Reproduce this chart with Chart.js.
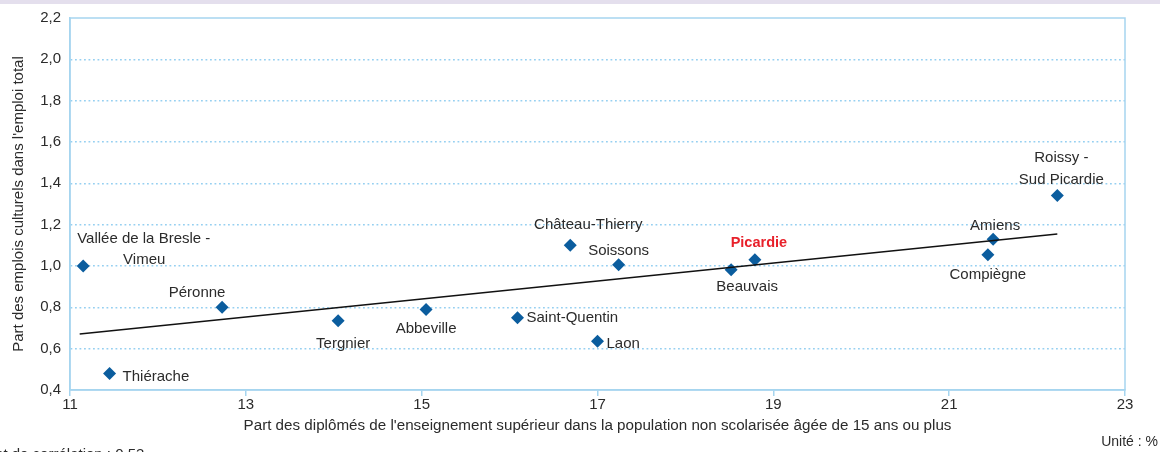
<!DOCTYPE html>
<html>
<head>
<meta charset="utf-8">
<script src="https://cdn.jsdelivr.net/npm/chart.js@4"></script>
<style>
  html, body { margin: 0; padding: 0; background: #fff; }
  #wrap { width: 1160px; height: 452px; }
</style>
</head>
<body>
<div id="wrap"><canvas id="chart" width="1160" height="452"></canvas></div>
<script>
// zones d'emploi
const zones = [
    "Vallée de la Bresle - Vimeu", "Thiérache", "Péronne", "Tergnier", "Abbeville",
    "Saint-Quentin", "Laon", "Château-Thierry", "Soissons", "Beauvais",
    "Picardie", "Compiègne", "Amiens", "Roissy - Sud Picardie"
];
// part des diplômés du supérieur (%)
const diplomes = [11.15, 11.45, 12.73, 14.05, 15.05, 16.09, 17.0, 16.69, 17.24, 18.52, 18.79, 21.44, 21.5, 22.23];
// part des emplois culturels (%)
const emplois = [1.0, 0.48, 0.8, 0.735, 0.79, 0.75, 0.636, 1.1, 1.006, 0.982, 1.03, 1.054, 1.129, 1.341];
// droite de tendance
const trendX = [11.11, 22.23];
const trendY = [0.671, 1.155];

const xTicks = [11, 13, 15, 17, 19, 21, 23];
const yTicks = [0.4, 0.6, 0.8, 1.0, 1.2, 1.4, 1.6, 1.8, 2.0, 2.2];

const FONT = "'Liberation Sans', Arial, sans-serif";
const TEXT = '#2b2b2b';
const AXIS = '#a6d5ef';

// position des étiquettes par rapport au point (px): lignes, dx, dy, alignement
const labelPlacement = {
    "Vallée de la Bresle - Vimeu": [["Vallée de la Bresle -", -6, -27, 'left'], ["Vimeu", 61, -6, 'center']],
    "Thiérache": [["Thiérache", 13, 3, 'left']],
    "Péronne": [["Péronne", -25, -14, 'center']],
    "Tergnier": [["Tergnier", 5, 23, 'center']],
    "Abbeville": [["Abbeville", 0, 19, 'center']],
    "Saint-Quentin": [["Saint-Quentin", 9, 0, 'left']],
    "Laon": [["Laon", 9, 3, 'left']],
    "Château-Thierry": [["Château-Thierry", 18, -20, 'center']],
    "Soissons": [["Soissons", 0, -14, 'center']],
    "Beauvais": [["Beauvais", 16, 17, 'center']],
    "Picardie": [["Picardie", 4, -17, 'center']],
    "Compiègne": [["Compiègne", 0, 20, 'center']],
    "Amiens": [["Amiens", 2, -13, 'center']],
    "Roissy - Sud Picardie": [["Roissy -", 4, -38, 'center'], ["Sud Picardie", 4, -16, 'center']]
};

const pointLabels = {
    id: 'pointLabels',
    afterDatasetsDraw(chart) {
        const ctx = chart.ctx;
        const meta = chart.getDatasetMeta(1);
        ctx.save();
        ctx.textBaseline = 'middle';
        meta.data.forEach((pt, i) => {
            const name = zones[i];
            const isRegion = name === 'Picardie';
            ctx.font = (isRegion ? 'bold 14.5px ' : '15px ') + FONT;
            ctx.fillStyle = isRegion ? '#e8212b' : TEXT;
            labelPlacement[name].forEach(([txt, dx, dy, align]) => {
                ctx.textAlign = align;
                ctx.fillText(txt, pt.x + dx, pt.y + dy);
            });
        });
        ctx.restore();
    }
};

const frame = {
    id: 'frame',
    beforeDraw(chart) {
        const ctx = chart.ctx;
        ctx.save();
        ctx.fillStyle = '#e4dfed';
        ctx.fillRect(0, 0, chart.width, 4);
        ctx.restore();
    },
    afterDraw(chart) {
        const { ctx, chartArea: a } = chart;
        ctx.save();
        ctx.strokeStyle = AXIS;
        ctx.lineWidth = 1.5;
        ctx.strokeRect(a.left, a.top, a.right - a.left, a.bottom - a.top);
        ctx.font = '14px ' + FONT;
        ctx.fillStyle = TEXT;
        ctx.textBaseline = 'middle';
        ctx.textAlign = 'right';
        ctx.fillText('Unité : %', 1158, 442);
        ctx.font = '15px ' + FONT;
        ctx.textAlign = 'left';
        ctx.fillText('Coefficient de corrélation : 0,53', -63, 455);
        ctx.restore();
    }
};

new Chart(document.getElementById('chart'), {
    type: 'scatter',
    data: {
        datasets: [
            {
                type: 'line',
                data: trendX.map((x, i) => ({ x: x, y: trendY[i] })),
                borderColor: '#111',
                borderWidth: 1.5,
                pointRadius: 0,
                fill: false
            },
            {
                data: diplomes.map((x, i) => ({ x: x, y: emplois[i] })),
                pointStyle: 'rectRot',
                pointRadius: 6.5,
                backgroundColor: '#0b5d9e',
                borderColor: '#0b5d9e',
                borderWidth: 0
            }
        ]
    },
    options: {
        responsive: false,
        animation: false,
        layout: { padding: { left: 0, right: 35, top: 13, bottom: 0 } },
        plugins: { legend: { display: false }, tooltip: { enabled: false } },
        scales: {
            x: {
                type: 'linear',
                min: 11, max: 23,
                afterBuildTicks: s => { s.ticks = xTicks.map(v => ({ value: v })); },
                afterFit: s => { s.height = 62; },
                grid: { drawOnChartArea: false, color: AXIS, tickLength: 6, lineWidth: 1.5 },
                border: { color: AXIS, width: 1.5 },
                ticks: { color: TEXT, font: { family: FONT, size: 15 }, padding: 0, maxRotation: 0 },
                title: {
                    display: true,
                    text: "Part des diplômés de l'enseignement supérieur dans la population non scolarisée âgée de 15 ans ou plus",
                    color: TEXT, font: { family: FONT, size: 15.2 }, padding: { top: 0, bottom: 17 }
                }
            },
            y: {
                min: 0.4, max: 2.2,
                afterBuildTicks: s => { s.ticks = yTicks.map(v => ({ value: v })); },
                afterFit: s => { s.width = 70; },
                grid: {
                    color: c => (c.index === 0 || c.index === yTicks.length - 1) ? 'rgba(0,0,0,0)' : '#96d0f1',
                    lineWidth: 1.5,
                    drawTicks: false
                },
                // en v4 le pointillé des lignes de grille se règle ici
                border: { color: AXIS, width: 1.5, dash: [1.8, 2.7] },
                ticks: {
                    color: TEXT, font: { family: FONT, size: 15 }, padding: 9,
                    callback: v => v.toFixed(1).replace('.', ',')
                },
                title: {
                    display: true,
                    text: "Part des emplois culturels dans l'emploi total",
                    color: TEXT, font: { family: FONT, size: 15 }, padding: { top: 10, bottom: 0 }
                }
            }
        }
    },
    plugins: [pointLabels, frame]
});
</script>
</body>
</html>
